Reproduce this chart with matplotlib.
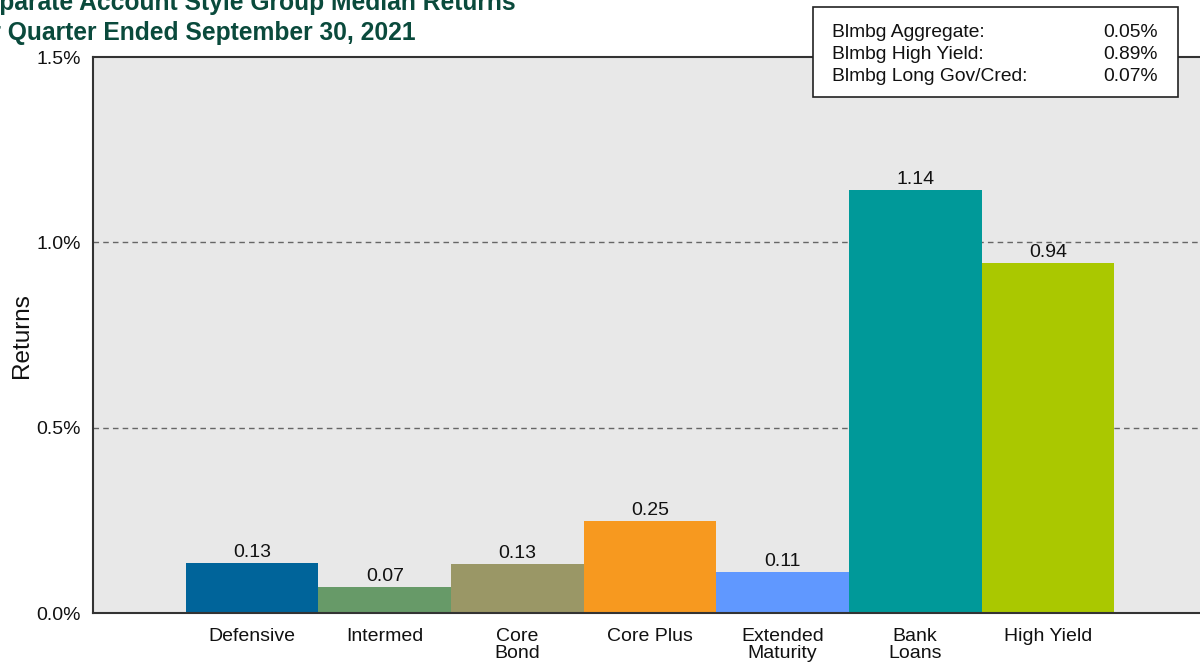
import matplotlib
matplotlib.use('Agg')
import matplotlib.pyplot as plt
import matplotlib.patches as patches

plt.rcParams['font.family'] = ['Liberation Sans', 'DejaVu Sans']

# data
categories = ['Defensive', 'Intermed', 'Core\nBond', 'Core Plus', 'Extended\nMaturity', 'Bank\nLoans', 'High Yield']
returns = [0.134, 0.07, 0.132, 0.248, 0.111, 1.14, 0.944]
bar_colors = ['#00649a', '#679a68', '#9a9766', '#f7991f', '#6098ff', '#009999', '#aac800']
index_names = ['Blmbg Aggregate:', 'Blmbg High Yield:', 'Blmbg Long Gov/Cred:']
index_values = ['0.05%', '0.89%', '0.07%']
yticks = [0.0, 0.5, 1.0, 1.5]

W, H = 1200, 664
fig = plt.figure(figsize=(W / 100, H / 100), dpi=100)
ax = fig.add_axes([93 / W, (H - 613) / H, (1207 - 93) / W, (613 - 57) / H])
ax.set_facecolor('#e8e8e8')

x = list(range(len(categories)))
ax.bar(x, returns, width=1.0, color=bar_colors, zorder=3)
for xi, v in zip(x, returns):
    ax.annotate('{:.2f}'.format(v), (xi, v), xytext=(0, 1.5), textcoords='offset points',
                ha='center', va='bottom', fontsize=14, color='#111111', zorder=4)

ax.set_xlim(-1.2, 7.2)
ax.set_ylim(0, 1.5)
ax.set_yticks(yticks)
ax.set_yticklabels(['{:.1f}%'.format(t) for t in yticks], fontsize=14, color='#111111')
ax.set_xticks(x)
ax.set_xticklabels(categories, fontsize=14, color='#111111', linespacing=0.95, va='top')
ax.tick_params(axis='both', length=0)
ax.tick_params(axis='y', pad=9)
ax.tick_params(axis='x', pad=11)

for yv in [0.5, 1.0]:
    ax.axhline(yv, color='#666666', linestyle='--', linewidth=1.0, dashes=(4, 3), zorder=1)

for side in ['top', 'left', 'bottom', 'right']:
    ax.spines[side].set_color('#333333')
    ax.spines[side].set_linewidth(1.5)
ax.spines['bottom'].set_zorder(5)

fig.text(22 / W, 1 - 336 / H, 'Returns', rotation=90, ha='center', va='center',
         fontsize=17.5, color='#111111')

# title, clipped at the left edge like the reference
title_color = '#0a4a3c'
fig.text(-31 / W, 1 - 10 / H, 'Separate Account Style Group Median Returns', ha='left',
         va='baseline', fontsize=17.7, fontweight='bold', color=title_color)
fig.text(-32 / W, 1 - 40 / H, 'for Quarter Ended September 30, 2021', ha='left',
         va='baseline', fontsize=17.7, fontweight='bold', color=title_color)

# index box
box = patches.Rectangle((813 / W, 1 - 97 / H), 365 / W, 90 / H, transform=fig.transFigure,
                        facecolor='white', edgecolor='#222222', linewidth=1.2, zorder=10)
fig.patches.append(box)
for i, (name, val) in enumerate(zip(index_names, index_values)):
    yb = 1 - (37 + 22 * i) / H
    fig.text(832 / W, yb, name, ha='left', va='baseline', fontsize=13.9, color='#111111', zorder=11)
    fig.text(1158 / W, yb, val, ha='right', va='baseline', fontsize=13.9, color='#111111', zorder=11)

fig.savefig('out.png', dpi=100)
